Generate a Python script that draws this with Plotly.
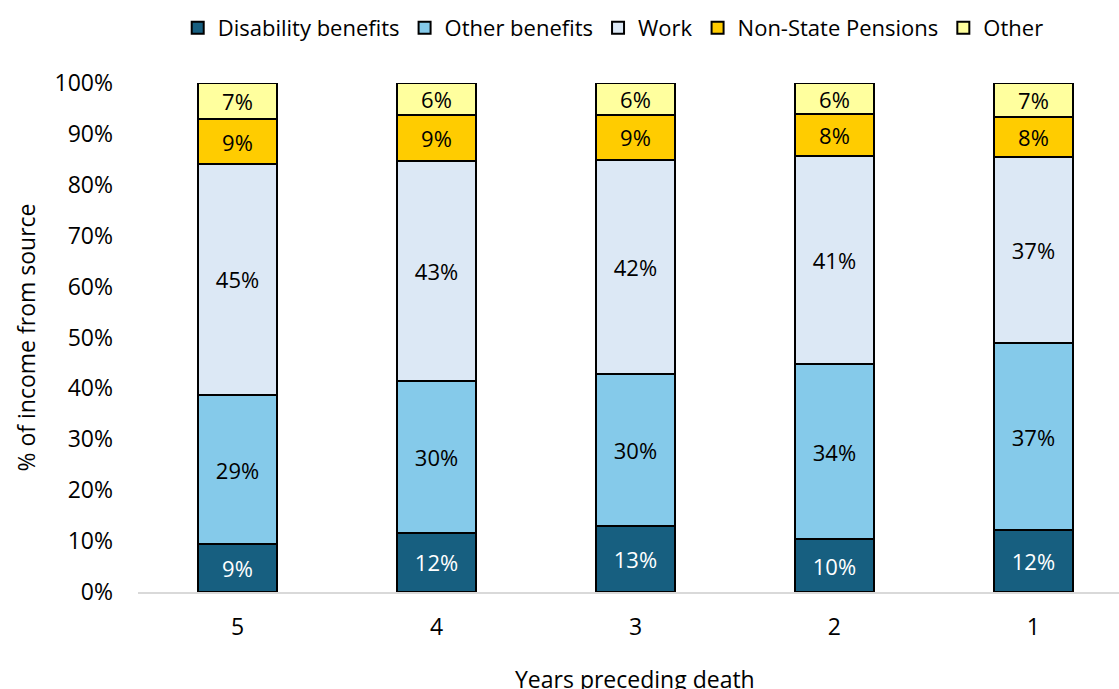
import plotly.graph_objects as go

# Share of income by source in each year before death (percent)
years = ["5", "4", "3", "2", "1"]
disability = [9.4, 11.6, 13.0, 10.4, 12.2]
other_benefits = [29.3, 29.9, 29.8, 34.4, 36.7]
work = [45.4, 43.2, 42.1, 40.9, 36.6]
pensions = [8.8, 9.0, 8.8, 8.2, 7.8]
other = [7.1, 6.3, 6.3, 6.1, 6.7]

series = [
    ("Disability benefits", disability, "#175F80", "white"),
    ("Other benefits", other_benefits, "#85CAEA", "black"),
    ("Work", work, "#DCE8F5", "black"),
    ("Non-State Pensions", pensions, "#FFCC00", "black"),
    ("Other", other, "#FFFF9E", "black"),
]

FONT = "Open Sans, sans-serif"
SIZE = 23

fig = go.Figure()
for name, vals, color, tcolor in series:
    fig.add_trace(go.Bar(
        x=years, y=vals, name=name,
        marker=dict(color=color, line=dict(color="black", width=2)),
        texttemplate="%{y:.0f}%",
        textposition="inside",
        insidetextanchor="middle",
        textangle=0,
        textfont=dict(color=tcolor, size=22, family=FONT),
    ))

fig.add_annotation(
    x=2, y=0, xref="x", yref="paper",
    yshift=-69, yanchor="top",
    text="Years preceding death", showarrow=False,
    font=dict(size=SIZE, color="black", family=FONT),
)

fig.update_layout(
    width=1119, height=689,
    barmode="stack", bargap=0.6,
    plot_bgcolor="white", paper_bgcolor="white",
    margin=dict(l=138, r=0, t=83, b=97),
    font=dict(family=FONT, size=SIZE, color="black"),
    uniformtext=dict(minsize=22, mode="show"),
    legend=dict(
        orientation="h", x=0.548, xref="container", xanchor="center",
        y=0.99, yref="container", yanchor="top",
        font=dict(size=22, family=FONT), traceorder="normal",
        itemwidth=30,
    ),
    showlegend=True,
)
fig.update_xaxes(
    type="category", range=[-0.5, 4.43],
    showline=True, linecolor="#D9D9D9", linewidth=2,
    ticks="", showgrid=False, ticklabelstandoff=13,
    tickfont=dict(size=SIZE, family=FONT),
)
fig.update_yaxes(
    range=[0, 100], tickvals=list(range(0, 101, 10)),
    ticktext=[f"{v}%" for v in range(0, 101, 10)],
    showgrid=False, zeroline=False, showline=False,
    ticks="", ticklabelstandoff=24,
    title=dict(text="% of income from source", font=dict(size=SIZE, family=FONT), standoff=12),
    tickfont=dict(size=SIZE, family=FONT),
)

fig.write_html("out.html")
